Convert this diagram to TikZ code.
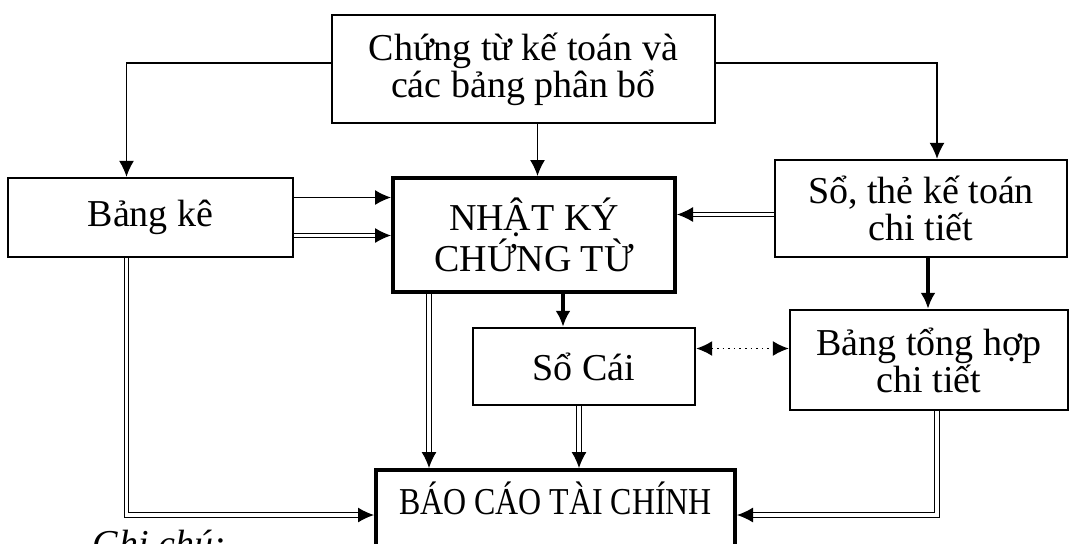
\documentclass[tikz,border=0pt]{standalone}
\usepackage{fontspec}
\setmainfont{Liberation Serif}
\usetikzlibrary{arrows.meta}

\begin{document}
\begin{tikzpicture}[x=0.5pt,y=-0.5pt]
   \tikzstyle{box}=[draw, line width=1.2pt, inner sep=0pt, align=center, font=\fontsize{19}{18.5}\selectfont]
   \tikzstyle{thin}=[line width=0.7pt, -{Latex[length=8pt,width=7.5pt]}]
   \tikzstyle{thick}=[line width=2pt, -{Latex[length=8pt,width=7.5pt]}]
   \tikzstyle{twin}=[double, double distance=1.6pt, line width=0.6pt, -{Latex[length=8pt,width=7.5pt]}]
   \useasboundingbox (0,0) rectangle (1069,543);

\node[box, minimum width=191.5pt, minimum height=54pt] (ctkt) at (523.5,69) {Chứng từ kế toán và\\các bảng phân bổ};
\node[box, minimum width=142.5pt, minimum height=39.5pt] (bangke) at (150.5,217.5) {Bảng kê};
\node[box, line width=2pt, minimum width=141pt, minimum height=57pt] (nkct) at (534,235) {NHẬT KÝ\\CHỨNG TỪ};
\node[box, minimum width=146pt, minimum height=48.5pt] (sothe) at (921,208.5) {Sổ, thẻ kế toán\\chi tiết};
\node[box, minimum width=111pt, minimum height=38.5pt] (socai) at (584,366.5) {Sổ Cái};
\node[box, minimum width=139pt, minimum height=50pt] (bangth) at (929,360) {Bảng tổng hợp\\chi tiết};
\node[box, line width=2pt, anchor=north, minimum width=179.5pt, text height=22pt, text depth=60pt] (bctc) at (555.5,468) {\scalebox{0.84}[1]{BÁO CÁO TÀI CHÍNH}};
\node[anchor=base west, inner sep=0pt, font=\fontsize{19}{19}\selectfont\itshape] (ghichu) at (92,556) {Ghi chú:};

\draw[thin] ([yshift=3pt]ctkt.west) -| ([xshift=-12pt]bangke.north);
\draw[thin] ([yshift=3pt]ctkt.east) -| ([xshift=8pt]sothe.north);
\draw[thin] ([xshift=7pt]ctkt.south) -- ([xshift=7pt]ctkt.south |- nkct.north);
\draw[thin] ([yshift=10pt]bangke.east) -- ([yshift=10pt]bangke.east -| nkct.west);
\draw[twin] ([yshift=-9pt]bangke.east) -- ([yshift=-9pt]bangke.east -| nkct.west);
\draw[twin] ([yshift=-3pt]sothe.west) -- ([yshift=-3pt]sothe.west -| nkct.east);
\draw[thick] ([xshift=3.5pt]sothe.south) -- ([xshift=3.5pt]sothe.south |- bangth.north);
\draw[thick] ([xshift=14.5pt]nkct.south) -- ([xshift=14.5pt]nkct.south |- socai.north);
\draw[line width=0.8pt, dotted, {Latex[length=8pt,width=7.5pt]}-{Latex[length=8pt,width=7.5pt]}] ([yshift=9pt]socai.east) -- ([yshift=9pt]socai.east -| bangth.west);
\draw[twin] ([xshift=-2.5pt]socai.south) -- ([xshift=-2.5pt]socai.south |- bctc.north);
\draw[twin] ([xshift=-52.5pt]nkct.south) -- ([xshift=-52.5pt]nkct.south |- bctc.north);
\draw[twin] ([xshift=-12pt]bangke.south) |- ([yshift=-23.5pt]bctc.north west);
\draw[twin] ([xshift=4pt]bangth.south) |- ([yshift=-23.5pt]bctc.north east);

\end{tikzpicture}
\end{document}
